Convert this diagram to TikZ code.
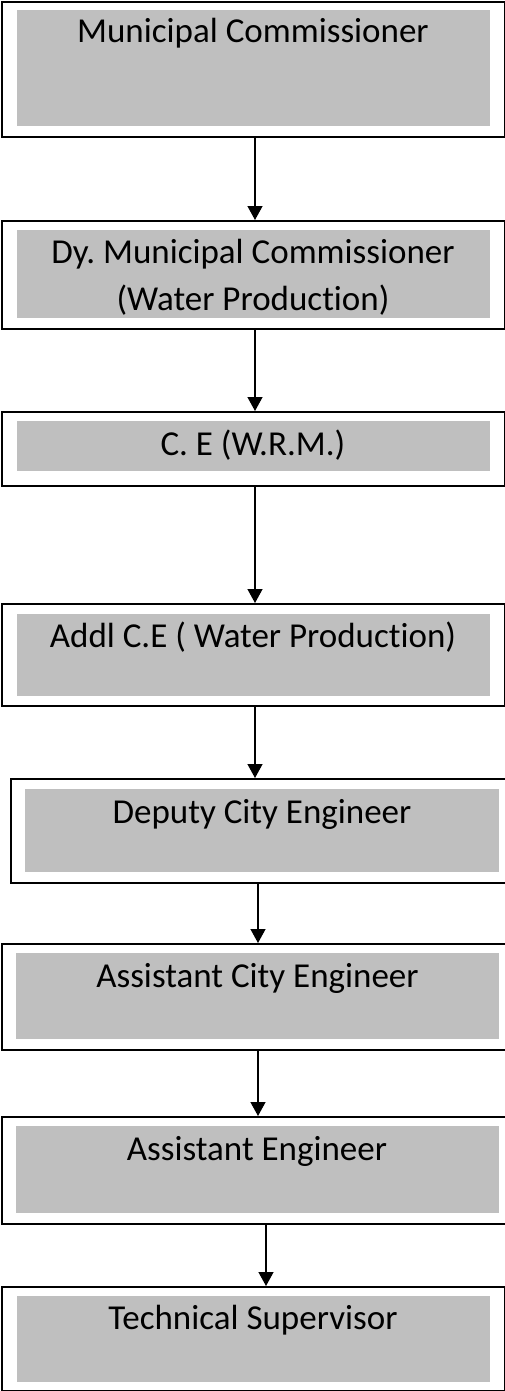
\documentclass[tikz,border=0pt]{standalone}
\usepackage{fontspec}
\setmainfont{Carlito}[Ligatures=NoCommon]
\usetikzlibrary{arrows.meta}
\definecolor{boxgray}{RGB}{191,191,191}
\frenchspacing
\tikzset{
  outerbox/.style={draw=black, line width=1.6pt},
  innerbox/.style={fill=boxgray, draw=none},
  lbl/.style={anchor=base, inner sep=0pt, font=\fontsize{35}{47}\selectfont},
  arr/.style={line width=1.3pt, -{Triangle[width=15pt,length=14pt]}, shorten >=0pt}
}
\begin{document}
\begin{tikzpicture}[x=1pt,y=-1pt]
\clip (0,0) rectangle (505,1391);
\fill[white] (0,0) rectangle (505,1391);
% box outlines (nodes)
\def\mkbox#1#2#3#4#5#6#7#8#9{%
  \node[outerbox, inner sep=0pt, anchor=north west, minimum width=#4-#2, minimum height=#5-#3] (#1) at (#2,#3) {};%
  \fill[innerbox] (#6,#7) rectangle (#8,#9);}
\mkbox{b1}{1}{1}{504}{136}{17}{10}{490}{126}
\mkbox{b2}{1}{220}{504}{328}{17}{230}{490}{318}
\mkbox{b3}{1}{411}{504}{485}{17}{421}{490}{471}
\mkbox{b4}{1}{603}{504}{705}{17}{614}{490}{696}
\mkbox{b5}{10}{778}{515}{882}{25}{789}{499}{872}
\mkbox{b6}{1}{943}{515}{1049}{16}{953}{499}{1039}
\mkbox{b7}{1}{1116}{515}{1223}{16}{1126}{499}{1213}
\mkbox{b8}{1}{1286}{504}{1390}{17}{1296}{490}{1382}
% labels
\node[lbl] (t1) at (253,43) {Municipal Commissioner};
\node[lbl] (t2a) at (253,263) {Dy. Municipal Commissioner};
\node[lbl] (t2b) at (253,310) {(Water Production)};
\node[lbl] (t3) at (253,455) {C. E (W.R.M.)};
\node[lbl] (t4) at (253,647) {Addl C.E ( Water Production)};
\node[lbl] (t5) at (262,823) {Deputy City Engineer};
\node[lbl] (t6) at (257.5,987) {Assistant City Engineer};
\node[lbl] (t7) at (257,1160) {Assistant Engineer};
\node[lbl] (t8) at (253,1329) {Technical Supervisor};
% connectors
\draw[arr] (b1.south -| 255,0) -- (b2.north -| 255,0);
\draw[arr] (b2.south -| 255,0) -- (b3.north -| 255,0);
\draw[arr] (b3.south -| 255,0) -- (b4.north -| 255,0);
\draw[arr] (b4.south -| 255,0) -- (b5.north -| 255,0);
\draw[arr] (b5.south -| 258,0) -- (b6.north -| 258,0);
\draw[arr] (b6.south -| 258,0) -- (b7.north -| 258,0);
\draw[arr] (b7.south -| 266,0) -- (b8.north -| 266,0);
\end{tikzpicture}
\end{document}
